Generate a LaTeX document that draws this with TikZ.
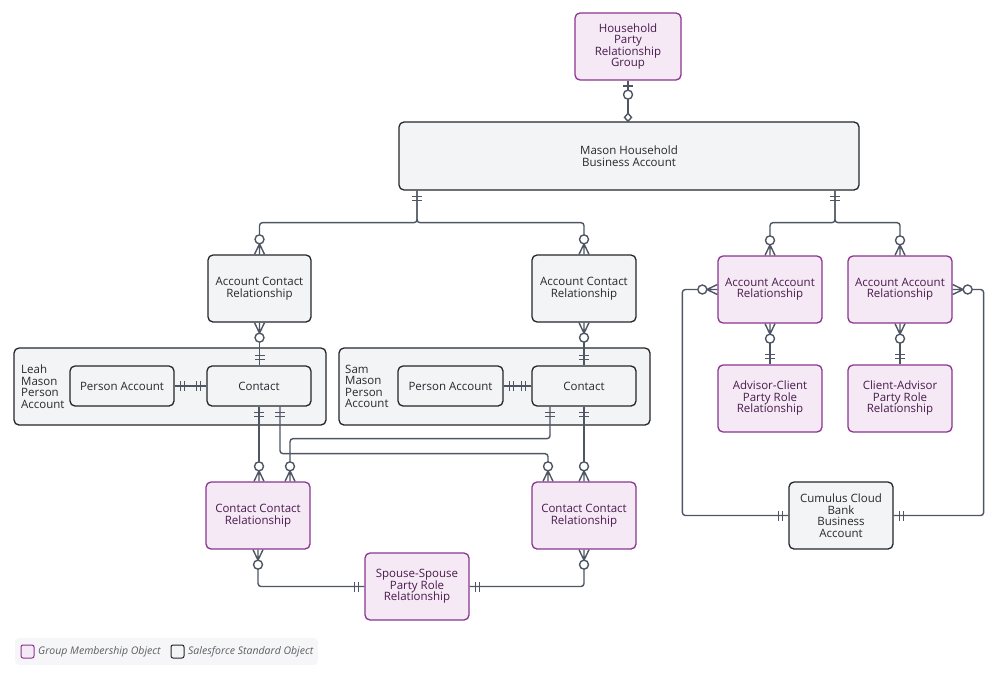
\documentclass[tikz,border=0pt]{standalone}
\usepackage{fontspec}
\setmainfont{Open Sans}
\usetikzlibrary{arrows.meta}

\definecolor{gmofill}{HTML}{F4E9F4}
\definecolor{gmoline}{HTML}{8A3590}
\definecolor{gmotext}{HTML}{4A1B4E}
\definecolor{ssofill}{HTML}{F3F4F6}
\definecolor{ssoline}{HTML}{23262B}
\definecolor{ssotext}{HTML}{26292E}
\definecolor{wire}{HTML}{4E5563}
\definecolor{legendfill}{HTML}{F6F6F8}
\definecolor{legendtext}{HTML}{5A5E66}

% exactly one
\pgfdeclarearrow{
  name = onlyone,
  setup code = {
    \pgfarrowssettipend{0pt}
    \pgfarrowssetlineend{0pt}
    \pgfarrowssetbackend{-11pt}
    \pgfarrowshullpoint{0pt}{5pt}
    \pgfarrowshullpoint{0pt}{-5pt}
    \pgfarrowshullpoint{-11pt}{5pt}
    \pgfarrowshullpoint{-11pt}{-5pt}
  },
  drawing code = {
    \pgfpathmoveto{\pgfpoint{-6pt}{5pt}}
    \pgfpathlineto{\pgfpoint{-6pt}{-5pt}}
    \pgfpathmoveto{\pgfpoint{-10pt}{5pt}}
    \pgfpathlineto{\pgfpoint{-10pt}{-5pt}}
    \pgfusepathqstroke
  },
  defaults = {}
}
% zero or many
\pgfdeclarearrow{
  name = zeromany,
  setup code = {
    \pgfarrowssettipend{0pt}
    \pgfarrowssetlineend{-15pt}
    \pgfarrowssetbackend{-20pt}
    \pgfarrowshullpoint{0pt}{5pt}
    \pgfarrowshullpoint{0pt}{-5pt}
    \pgfarrowshullpoint{-20pt}{5pt}
    \pgfarrowshullpoint{-20pt}{-5pt}
  },
  drawing code = {
    \pgfpathmoveto{\pgfpoint{0pt}{5pt}}
    \pgfpathlineto{\pgfpoint{-10.5pt}{0pt}}
    \pgfpathlineto{\pgfpoint{0pt}{-5pt}}
    \pgfpathmoveto{\pgfpoint{-10.5pt}{0pt}}
    \pgfpathlineto{\pgfpoint{0pt}{0pt}}
    \pgfusepathqstroke
    \pgfpathcircle{\pgfpoint{-15pt}{0pt}}{4.5pt}
    \pgfsetfillcolor{white}
    \pgfusepathqfillstroke
  },
  defaults = {}
}
% zero or one
\pgfdeclarearrow{
  name = zeroone,
  setup code = {
    \pgfarrowssettipend{0pt}
    \pgfarrowssetlineend{-14pt}
    \pgfarrowssetbackend{-19pt}
    \pgfarrowshullpoint{0pt}{5pt}
    \pgfarrowshullpoint{0pt}{-5pt}
    \pgfarrowshullpoint{-19pt}{5pt}
    \pgfarrowshullpoint{-19pt}{-5pt}
  },
  drawing code = {
    \pgfpathmoveto{\pgfpoint{-5.5pt}{5pt}}
    \pgfpathlineto{\pgfpoint{-5.5pt}{-5pt}}
    \pgfpathmoveto{\pgfpoint{0pt}{0pt}}
    \pgfpathlineto{\pgfpoint{-9.5pt}{0pt}}
    \pgfusepathqstroke
    \pgfpathcircle{\pgfpoint{-14pt}{0pt}}{4.5pt}
    \pgfsetfillcolor{white}
    \pgfusepathqfillstroke
  },
  defaults = {}
}
% small open diamond
\pgfdeclarearrow{
  name = smalldia,
  setup code = {
    \pgfarrowssettipend{0pt}
    \pgfarrowssetlineend{-4pt}
    \pgfarrowssetbackend{-8pt}
    \pgfarrowshullpoint{0pt}{0pt}
    \pgfarrowshullpoint{-4pt}{3.5pt}
    \pgfarrowshullpoint{-8pt}{0pt}
    \pgfarrowshullpoint{-4pt}{-3.5pt}
  },
  drawing code = {
    \pgfpathmoveto{\pgfpoint{0pt}{0pt}}
    \pgfpathlineto{\pgfpoint{-4pt}{3.5pt}}
    \pgfpathlineto{\pgfpoint{-8pt}{0pt}}
    \pgfpathlineto{\pgfpoint{-4pt}{-3.5pt}}
    \pgfpathclose
    \pgfsetfillcolor{white}
    \pgfusepathqfillstroke
  },
  defaults = {}
}

\begin{document}
\begin{tikzpicture}[x=1pt,y=-1pt,
  obj/.style={rounded corners=5pt,line width=1.3pt,align=center,inner sep=2pt,
    minimum width=104pt,minimum height=67pt,font=\fontsize{11.5}{11.5}\selectfont},
  gmo/.style={obj,fill=gmofill,draw=gmoline,text=gmotext},
  sso/.style={obj,fill=ssofill,draw=ssoline,text=ssotext},
  small/.style={minimum height=40pt},
  group/.style={rounded corners=5pt,line width=1.3pt,fill=ssofill,draw=ssoline,
    minimum width=312pt,minimum height=77pt},
  grouplabel/.style={anchor=west,align=left,text=ssotext,inner sep=0pt,
    font=\fontsize{11.5}{11.5}\selectfont},
  wire/.style={draw=wire,line width=1.4pt,rounded corners=3pt},
  swatch/.style={rounded corners=2pt,line width=1pt},
  legend/.style={anchor=west,text=legendtext,inner sep=0pt,
    font=\fontsize{10.5}{11}\selectfont\itshape}
]
\useasboundingbox (0,0) rectangle (1000,680);

% person account groups
\node[group] (leahgrp) at (170,386.5) {};
\node[group,minimum width=311pt] (samgrp) at (494.5,386.5) {};
\node[grouplabel] (leahlbl) at (21,386.5) {Leah\\Mason\\Person\\Account};
\node[grouplabel] (samlbl) at (345,386.5) {Sam\\Mason\\Person\\Account};

% objects
\node[gmo,minimum width=106pt] (hprg) at (628,46.5) {Household\\Party\\Relationship\\Group};
\node[sso,minimum width=460pt,minimum height=68pt] (mhba) at (629,156) {Mason Household\\Business Account};
\node[sso,minimum width=103pt] (acrL) at (259.5,288.5) {Account Contact\\Relationship};
\node[sso] (acrR) at (584,288.5) {Account Contact\\Relationship};
\node[sso,small] (paL) at (122,386) {Person Account};
\node[sso,small] (contactL) at (259,386) {Contact};
\node[sso,small,minimum width=105pt] (paR) at (450.5,386) {Person Account};
\node[sso,small] (contactR) at (584,386) {Contact};
\node[gmo] (ccrL) at (258,515.5) {Contact Contact\\Relationship};
\node[gmo] (ccrR) at (584,515.5) {Contact Contact\\Relationship};
\node[gmo] (spouse) at (417,586.5) {Spouse-Spouse\\Party Role\\Relationship};
\node[gmo] (aarL) at (770,289.5) {Account Account\\Relationship};
\node[gmo] (aarR) at (900,289.5) {Account Account\\Relationship};
\node[gmo] (acpr) at (770,398.5) {Advisor-Client\\Party Role\\Relationship};
\node[gmo] (capr) at (900,398.5) {Client-Advisor\\Party Role\\Relationship};
\node[sso] (cumulus) at (841,515.5) {Cumulus Cloud\\Bank\\Business\\Account};

% connectors
\draw[wire,{zeroone}-{smalldia}] (hprg.south) -- (hprg.south |- mhba.north);
\draw[wire,{onlyone}-{zeromany}] ([xshift=-212pt]mhba.south) -- ++(0,32) -| (acrL.north);
\draw[wire,{onlyone}-{zeromany}] ([xshift=-212pt]mhba.south) -- ++(0,32) -| (acrR.north);
\draw[wire,{onlyone}-{zeromany}] ([xshift=206pt]mhba.south) -- ++(0,32) -| (aarL.north);
\draw[wire,{onlyone}-{zeromany}] ([xshift=206pt]mhba.south) -- ++(0,32) -| (aarR.north);
\draw[wire,{zeromany}-{onlyone}] (acrL.south) -- (acrL.south |- contactL.north);
\draw[wire,{zeromany}-{onlyone}] (acrR.south) -- (contactR.north);
\draw[wire,{onlyone}-{onlyone}] (paL) -- (contactL);
\draw[wire,{onlyone}-{onlyone}] (paR) -- (contactR);
\draw[wire,{onlyone}-{zeromany}] (contactL.south) -- (contactL.south |- ccrL.north);
\draw[wire,{onlyone}-{zeromany}] ([xshift=21pt]contactL.south) -- ++(0,47) -| ([xshift=-36pt]ccrR.north);
\draw[wire,{onlyone}-{zeromany}] ([xshift=-34pt]contactR.south) -- ++(0,32) -| ([xshift=32pt]ccrL.north);
\draw[wire,{onlyone}-{zeromany}] (contactR.south) -- (ccrR.north);
\draw[wire,{zeromany}-{onlyone}] (ccrL.south) |- (spouse.west);
\draw[wire,{zeromany}-{onlyone}] (ccrR.south) |- (spouse.east);
\draw[wire,{zeromany}-{onlyone}] (aarL.south) -- (acpr.north);
\draw[wire,{zeromany}-{onlyone}] (aarR.south) -- (capr.north);
\draw[wire,{onlyone}-{zeromany}] (cumulus.west) -- ++(-106,0) |- (aarL.west);
\draw[wire,{onlyone}-{zeromany}] (cumulus.east) -- ++(90,0) |- (aarR.east);

% legend
\fill[legendfill,rounded corners=4pt] (15,638) rectangle (318,665);
\draw[swatch,fill=gmofill,draw=gmoline] (21,645) rectangle (34,658);
\node[legend] (gmolbl) at (38,651.5) {Group Membership Object};
\draw[swatch,fill=ssofill,draw=ssoline] (171,645) rectangle (184,658);
\node[legend] (ssolbl) at (188,651.5) {Salesforce Standard Object};
\end{tikzpicture}
\end{document}
